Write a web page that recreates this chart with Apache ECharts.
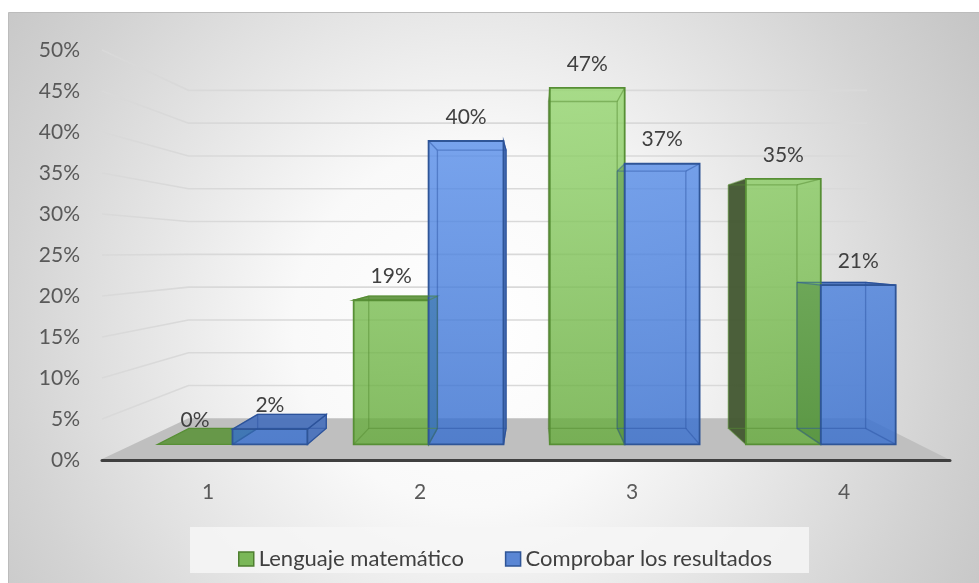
<!DOCTYPE html>
<html>
<head>
<meta charset="utf-8">
<script src="https://cdn.jsdelivr.net/npm/echarts/dist/echarts.min.js"></script>
<style>
html,body{margin:0;padding:0;background:#ffffff;}
#c{width:979px;height:583px;}
</style>
</head>
<body>
<div id="c"></div>
<script>
// ---- data ----
const categories = ['1', '2', '3', '4'];
const seriesNames = ['Lenguaje matemático', 'Comprobar los resultados'];
const lenguajeMatematico = [0, 0.19, 0.47, 0.35];
const comprobarResultados = [0.02, 0.40, 0.37, 0.21];
const yTicks = [0, 0.05, 0.10, 0.15, 0.20, 0.25, 0.30, 0.35, 0.40, 0.45, 0.50];

// ---- view / style ----
const FONT = 'Lato, "Open Sans", sans-serif';
const VIEW = {vpX: 0.51, vpValue: 0.254, floorBack: 0.8, barFront: 0.925, barBack: 0.848, barWidth: 0.382, labelGap: 24};
const STYLE = {
  green: {top: 'rgba(150,215,112,0.8)', bottom: 'rgba(99,169,57,0.8)', stroke: '#578f35',
          inner: 'rgba(85,140,50,0.5)', side: 'rgba(68,88,50,0.96)', lid: 'rgba(98,150,66,0.95)'},
  blue:  {top: 'rgba(94,148,239,0.8)', bottom: 'rgba(52,108,205,0.8)', stroke: '#2f5597',
          inner: 'rgba(40,80,160,0.45)', side: 'rgba(44,64,100,0.95)', lid: 'rgba(74,114,188,0.95)'}
};

function project(vx, vy, X, Y, s) {
  return [vx + s * (X - vx), vy + s * (Y - vy)];
}

function makeBarRenderer(st, side) {
  return function (params, api) {
    const i = api.value(0), v = api.value(1);
    const cs = params.coordSys;
    const base = api.coord([i, 0]);
    const top = api.coord([i, v]);
    const bw = api.size([1, 0])[0] * VIEW.barWidth;
    const X0 = side < 0 ? base[0] - bw : base[0];
    const X1 = X0 + bw;
    const Yb = base[1], Yt = top[1];
    const vx = cs.x + VIEW.vpX * cs.width;
    const vy = api.coord([0, VIEW.vpValue])[1];
    const P = (X, Y, s) => project(vx, vy, X, Y, s);
    const f = VIEW.barFront, b = VIEW.barBack;
    const fTL = P(X0, Yt, f), fTR = P(X1, Yt, f), fBR = P(X1, Yb, f), fBL = P(X0, Yb, f);
    const bTL = P(X0, Yt, b), bTR = P(X1, Yt, b), bBR = P(X1, Yb, b), bBL = P(X0, Yb, b);
    const grad = {type: 'linear', global: true, x: 0, y: cs.y + 30, x2: 0, y2: cs.y + cs.height,
      colorStops: [{offset: 0, color: st.top}, {offset: 1, color: st.bottom}]};
    const ch = [];
    if (X0 > vx) {
      ch.push({type: 'polygon', z2: 2, shape: {points: [bTL, fTL, fBL, bBL]},
        style: {fill: st.side}});
    }
    if (X1 < vx) {
      ch.push({type: 'polygon', z2: 2, shape: {points: [fTR, bTR, bBR, fBR]},
        style: {fill: st.lid, stroke: st.stroke, lineWidth: 1.2}});
    }
    if (Yt > vy) {
      ch.push({type: 'polygon', z2: 3, shape: {points: [bTL, bTR, fTR, fTL]},
        style: {fill: st.lid, stroke: st.stroke, lineWidth: 1.2}});
    }
    if (Yb - Yt > 0.5) {
      ch.push({type: 'polygon', z2: 4, shape: {points: [fTL, fTR, fBR, fBL]},
        style: {fill: grad, stroke: st.stroke, lineWidth: 1.8}});
      ch.push({type: 'polyline', z2: 5, shape: {points: [bTL, bTR, bBR, bBL, bTL]},
        style: {fill: null, stroke: st.inner, lineWidth: 1.3}});
      [[bTL, fTL], [bTR, fTR], [bBR, fBR], [bBL, fBL]].forEach(function (seg) {
        ch.push({type: 'line', z2: 5, shape: {x1: seg[0][0], y1: seg[0][1], x2: seg[1][0], y2: seg[1][1]},
          style: {stroke: st.inner, lineWidth: 1.3}});
      });
    }
    ch.push({type: 'text', z2: 10, x: (fTL[0] + fTR[0]) / 2, y: fTL[1] - VIEW.labelGap,
      style: {text: Math.round(v * 100) + '%', fill: '#404040', fontSize: 21, fontFamily: FONT,
              align: 'center', verticalAlign: 'middle'}});
    return {type: 'group', children: ch};
  };
}

function renderWalls(params, api) {
  const t = api.value(1);
  const cs = params.coordSys;
  const vx = cs.x + VIEW.vpX * cs.width;
  const vy = api.coord([0, VIEW.vpValue])[1];
  const y = api.coord([0, t])[1];
  const L = cs.x, R = cs.x + cs.width, s = VIEW.floorBack;
  const P = (X, Y) => project(vx, vy, X, Y, s);
  if (t === 0) {
    return {type: 'polygon', z2: 0, shape: {points: [[L - 2, y], [R, y], P(R, y), P(L, y)]},
      style: {fill: '#bfbfbf'}};
  }
  return {type: 'polyline', z2: 0, shape: {points: [[L, y], P(L, y), P(R, y)]},
    style: {fill: null, stroke: '#d9d9d9', lineWidth: 1.6}};
}

const chart = echarts.init(document.getElementById('c'), null, {renderer: 'canvas'});
chart.setOption({
  animation: false,
  backgroundColor: '#ffffff',
  textStyle: {fontFamily: FONT},
  graphic: [
    {type: 'rect', z: -20, silent: true, shape: {x: 8.5, y: 12.5, width: 971, height: 571},
     style: {fill: {type: 'radial', x: 0.48, y: 0.55, r: 1.05,
        colorStops: [{offset: 0, color: '#ffffff'}, {offset: 0.3, color: '#f9f9f9'},
                     {offset: 0.78, color: '#d3d3d3'}, {offset: 1, color: '#c4c4c4'}]},
            stroke: '#bcbcbc', lineWidth: 1}},
    {type: 'rect', z: -10, silent: true, shape: {x: 190, y: 527, width: 619, height: 46},
     style: {fill: 'rgba(246,246,246,0.85)'}}
  ],
  grid: {left: 102, right: 29, top: 50, bottom: 123, containLabel: false, outerBoundsMode: 'none'},
  xAxis: {
    type: 'category', data: categories, z: 5,
    axisLine: {show: true, lineStyle: {color: '#404040', width: 3}},
    axisTick: {show: false},
    axisLabel: {color: '#595959', fontSize: 21, fontFamily: FONT, margin: 22},
    splitLine: {show: false}
  },
  yAxis: {
    type: 'value', min: 0, max: 0.5, interval: 0.05,
    axisLine: {show: false}, axisTick: {show: false}, splitLine: {show: false},
    axisLabel: {color: '#595959', fontSize: 21, fontFamily: FONT, margin: 22,
      formatter: function (v) { return Math.round(v * 100) + '%'; }}
  },
  legend: {
    data: [
      {name: seriesNames[0], itemStyle: {color: '#7ab758', borderColor: '#4e7f2f', borderWidth: 1.5}},
      {name: seriesNames[1], itemStyle: {color: '#5a86d4', borderColor: '#2f5597', borderWidth: 1.5}}
    ],
    left: 233, top: 543, icon: 'rect', itemWidth: 15, itemHeight: 14, itemGap: 41,
    textStyle: {color: '#404040', fontSize: 22, fontFamily: FONT}
  },
  series: [
    {type: 'custom', name: 'walls', z: 1, silent: true, renderItem: renderWalls,
     data: yTicks.map(function (t) { return [0, t]; })},
    {type: 'custom', name: seriesNames[0], z: 2, renderItem: makeBarRenderer(STYLE.green, -1),
     itemStyle: {color: '#7ab758'},
     data: lenguajeMatematico.map(function (v, i) { return [i, v]; })},
    {type: 'custom', name: seriesNames[1], z: 2, renderItem: makeBarRenderer(STYLE.blue, 1),
     itemStyle: {color: '#5a86d4'},
     data: comprobarResultados.map(function (v, i) { return [i, v]; })}
  ]
});
</script>
</body>
</html>
